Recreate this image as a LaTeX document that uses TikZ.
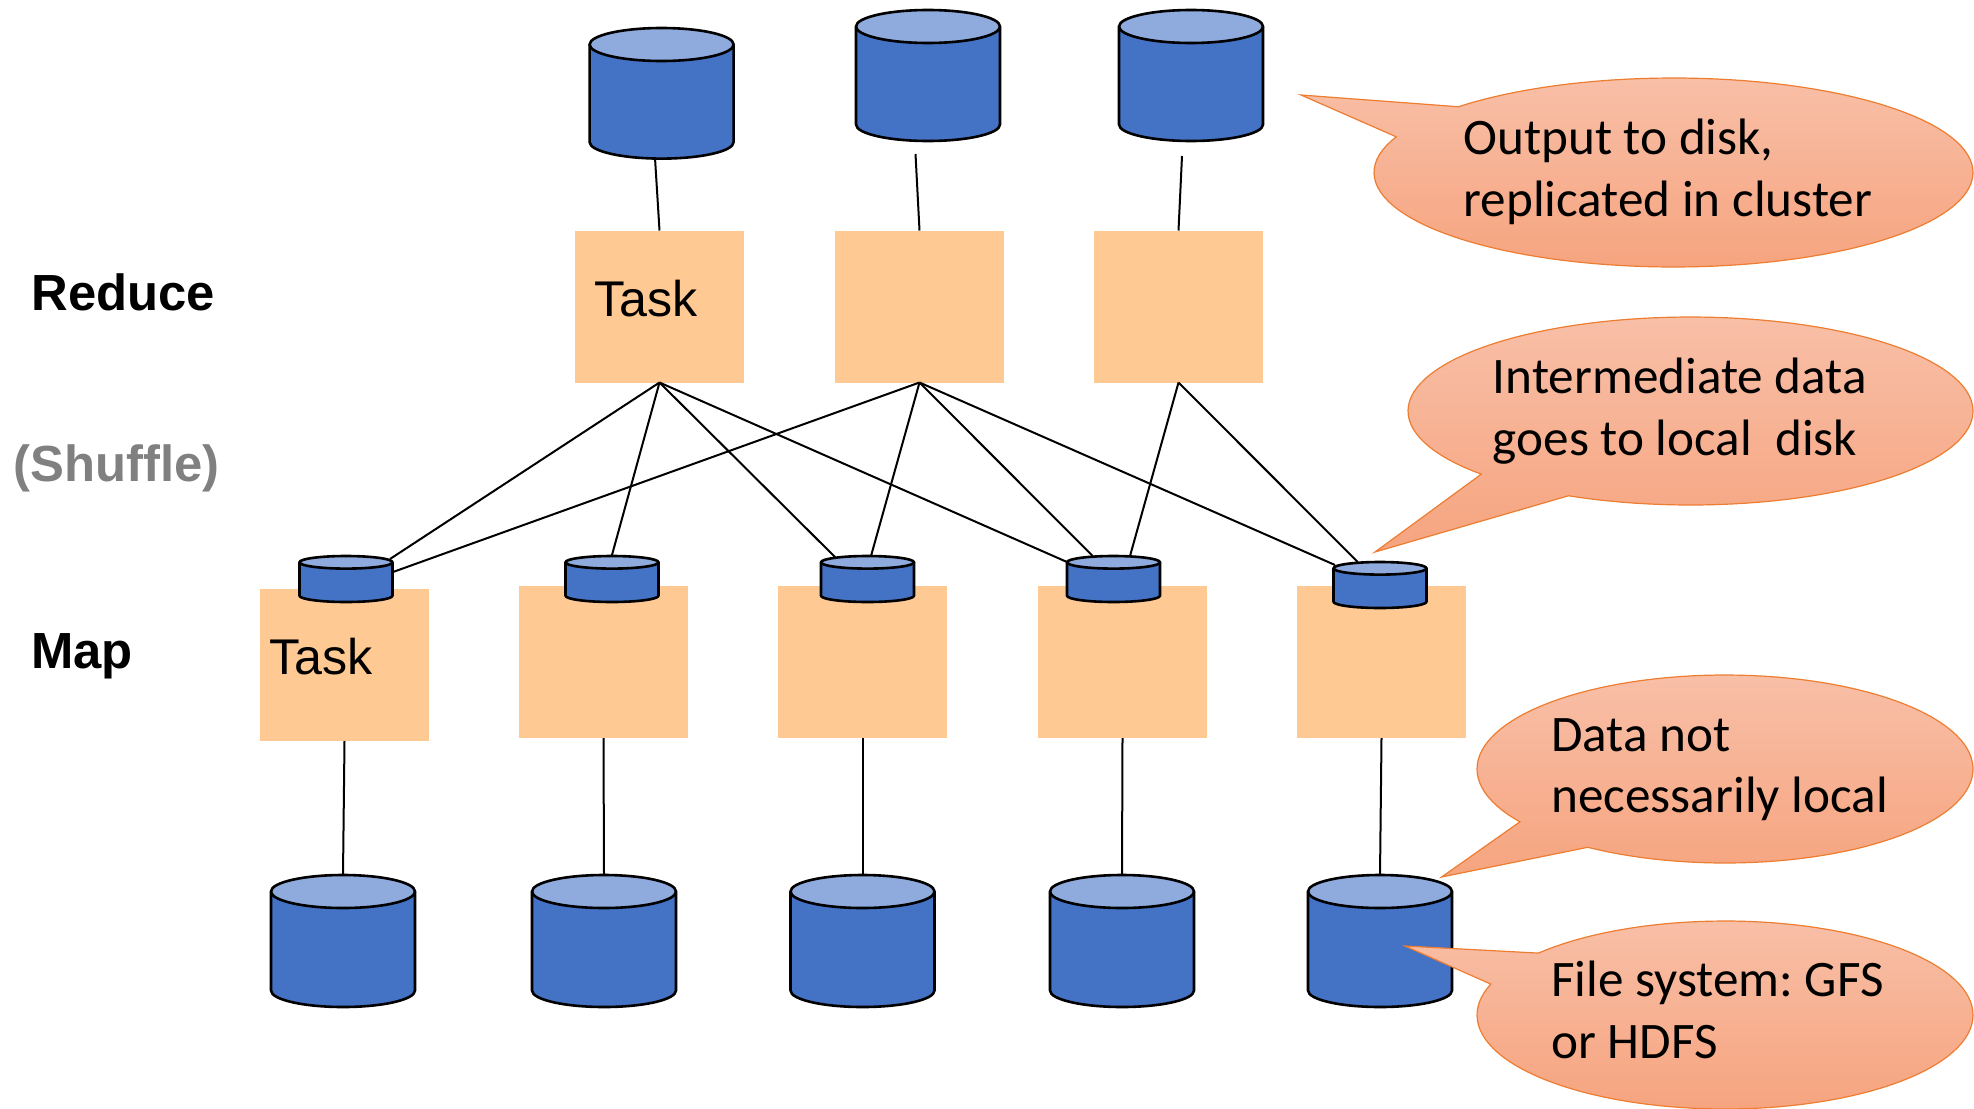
\documentclass[tikz,border=0pt]{standalone}
\usepackage{fontspec}
\setmainfont{Liberation Sans}
\newfontfamily\callfont{Carlito}
\definecolor{cylbody}{HTML}{4472C4}
\definecolor{cylend}{HTML}{8FAADC}
\definecolor{taskfill}{HTML}{FFC993}
\definecolor{calltop}{HTML}{F8BFA7}
\definecolor{callbot}{HTML}{F6A47F}
\definecolor{callline}{HTML}{ED7D31}
\tikzset{
  taskbox/.style={rectangle,fill=taskfill,minimum width=84.5pt,minimum height=76pt,inner sep=0pt,outer sep=0pt},
  diskline/.style={draw=black,line width=1.3pt,line join=round},
  link/.style={draw=black,line width=1pt},
  callshape/.style={draw=callline,line width=.6pt,top color=calltop,bottom color=callbot},
  calltext/.style={anchor=north west,align=left,inner sep=0pt,font=\callfont\fontsize{25.6}{30.6}\selectfont\frenchspacing},
  rowlabel/.style={anchor=base west,inner sep=0pt,font=\bfseries\fontsize{25.4}{30}\selectfont},
  tasklabel/.style={anchor=base west,inner sep=0pt,font=\fontsize{25.1}{29}\selectfont}
}
% #1 name, #2 centre x, #3 centre y, #4 half width, #5 half height, #6 radius of the end ellipse across
\newcommand{\diskshape}[6]{%
  \node[rectangle,inner sep=0pt,outer sep=0pt,minimum width=#4pt,minimum height=#5pt] (#1) at (#2,#3) {};
  \begin{scope}[shift={(#2,#3)}]
    \path[diskline,fill=cylbody] ({-#4},{-#5+#6}) -- ({-#4},{#5-#6})
      .. controls ({-#4},{#5-#6+.5523*#6}) and ({-.5523*#4},{#5}) .. (0,{#5})
      .. controls ({.5523*#4},{#5}) and ({#4},{#5-#6+.5523*#6}) .. ({#4},{#5-#6})
      -- ({#4},{-#5+#6}) -- cycle;
    \path[diskline,fill=cylend] (0,{-#5+#6}) ellipse [x radius=#4,y radius=#6];
  \end{scope}
}
\begin{document}
\begin{tikzpicture}[x=.5pt,y=-.5pt]
\useasboundingbox (0,0) rectangle (1974,1108);
% reduce tasks
\node[taskbox] (r1) at (659.5,306.5) {};
\node[taskbox] (r2) at (919.5,306.5) {};
\node[taskbox] (r3) at (1178.5,306.5) {};
% map tasks
\node[taskbox] (m1) at (344.5,665) {};
\node[taskbox] (m2) at (603.5,662) {};
\node[taskbox] (m3) at (862.5,662) {};
\node[taskbox] (m4) at (1122.5,662) {};
\node[taskbox] (m5) at (1381.5,662) {};
% output disks
\diskshape{o1}{661.6}{93.3}{72}{65.3}{16.5}
\diskshape{o2}{928}{75.5}{72}{65.5}{16.5}
\diskshape{o3}{1191}{75.5}{72}{65.5}{16.5}
% intermediate disks
\diskshape{s1}{346}{579}{46.5}{23}{6.3}
\diskshape{s2}{612}{579}{46.5}{23}{6.3}
\diskshape{s3}{867.5}{579}{46.5}{23}{6.3}
\diskshape{s4}{1113.5}{579}{46.5}{23}{6.3}
\diskshape{s5}{1380}{585}{46.5}{23}{6.3}
% input disks
\diskshape{i1}{343}{941}{72}{66}{16.5}
\diskshape{i2}{604}{941}{72}{66}{16.5}
\diskshape{i3}{862.5}{941}{72}{66}{16.5}
\diskshape{i4}{1122}{941}{72}{66}{16.5}
\diskshape{i5}{1380}{941}{72}{66}{16.5}
% connector ends
\coordinate (o2e) at (915.5,154);
\coordinate (o3e) at (1182,156);
\coordinate (o1e) at (655,158);
\coordinate (s1a) at (390,559);
\coordinate (s1b) at (393,572);
\coordinate (s2a) at (611.7,556);
\coordinate (s3a) at (836,558);
\coordinate (s3b) at (871,556);
\coordinate (s4a) at (1067,562);
\coordinate (s4b) at (1092.7,556);
\coordinate (s4c) at (1130,556);
\coordinate (s5a) at (1335,565);
\coordinate (s5b) at (1357.7,562);
% connectors
\draw[link] (o1e) -- (r1.north);
\draw[link] (o2e) -- (r2.north);
\draw[link] (o3e) -- (r3.north);
\draw[link] (r1.south) -- (s1a);
\draw[link] (r1.south) -- (s2a);
\draw[link] (r1.south) -- (s3a);
\draw[link] (r1.south) -- (s4a);
\draw[link] (r2.south) -- (s1b);
\draw[link] (r2.south) -- (s3b);
\draw[link] (r2.south) -- (s4b);
\draw[link] (r2.south) -- (s5a);
\draw[link] (r3.south) -- (s4c);
\draw[link] (r3.south) -- (s5b);
\draw[link] (m1.south) -- (i1.north);
\draw[link] (m2.south) -- (i2.north);
\draw[link] (m3.south) -- (i3.north);
\draw[link] (m4.south) -- (i4.north);
\draw[link] (m5.south) -- (i5.north);
% labels
\node[rowlabel] (lr) at (31,310) {Reduce};
\node[rowlabel,text=gray] (ls) at (13,481) {(Shuffle)};
\node[rowlabel] (lm) at (31,668.5) {Map};
\node[tasklabel] (t1) at (594,316) {Task};
\node[tasklabel] (t2) at (269,674) {Task};
% callouts
\path[callshape] (1301,95) -- plot[domain=224.1:562.2,samples=120] ({1673.5+299.5*cos(\x)},{172.5+94.5*sin(\x)}) -- cycle;
\path[callshape] (1375,552) -- plot[domain=137.8:475.6,samples=120] ({1690.5+282.5*cos(\x)},{411+94*sin(\x)}) -- cycle;
\path[callshape] (1441.6,877) -- plot[domain=145.8:483.6,samples=120] ({1725+248*cos(\x)},{769+94*sin(\x)}) -- cycle;
\path[callshape] (1405,946) -- plot[domain=221.2:559.2,samples=120] ({1725+248*cos(\x)},{1015+94*sin(\x)}) -- cycle;
\node[calltext] (c1) at (1463,119) {Output to disk,\\replicated in cluster};
\node[calltext] (c2) at (1492.5,358) {Intermediate data\\goes to local\ \ disk};
\node[calltext] (c3) at (1551,718) {Data not\\necessarily local};
\node[calltext] (c4) at (1551,961) {File system: GFS\\or HDFS};
\end{tikzpicture}
\end{document}
